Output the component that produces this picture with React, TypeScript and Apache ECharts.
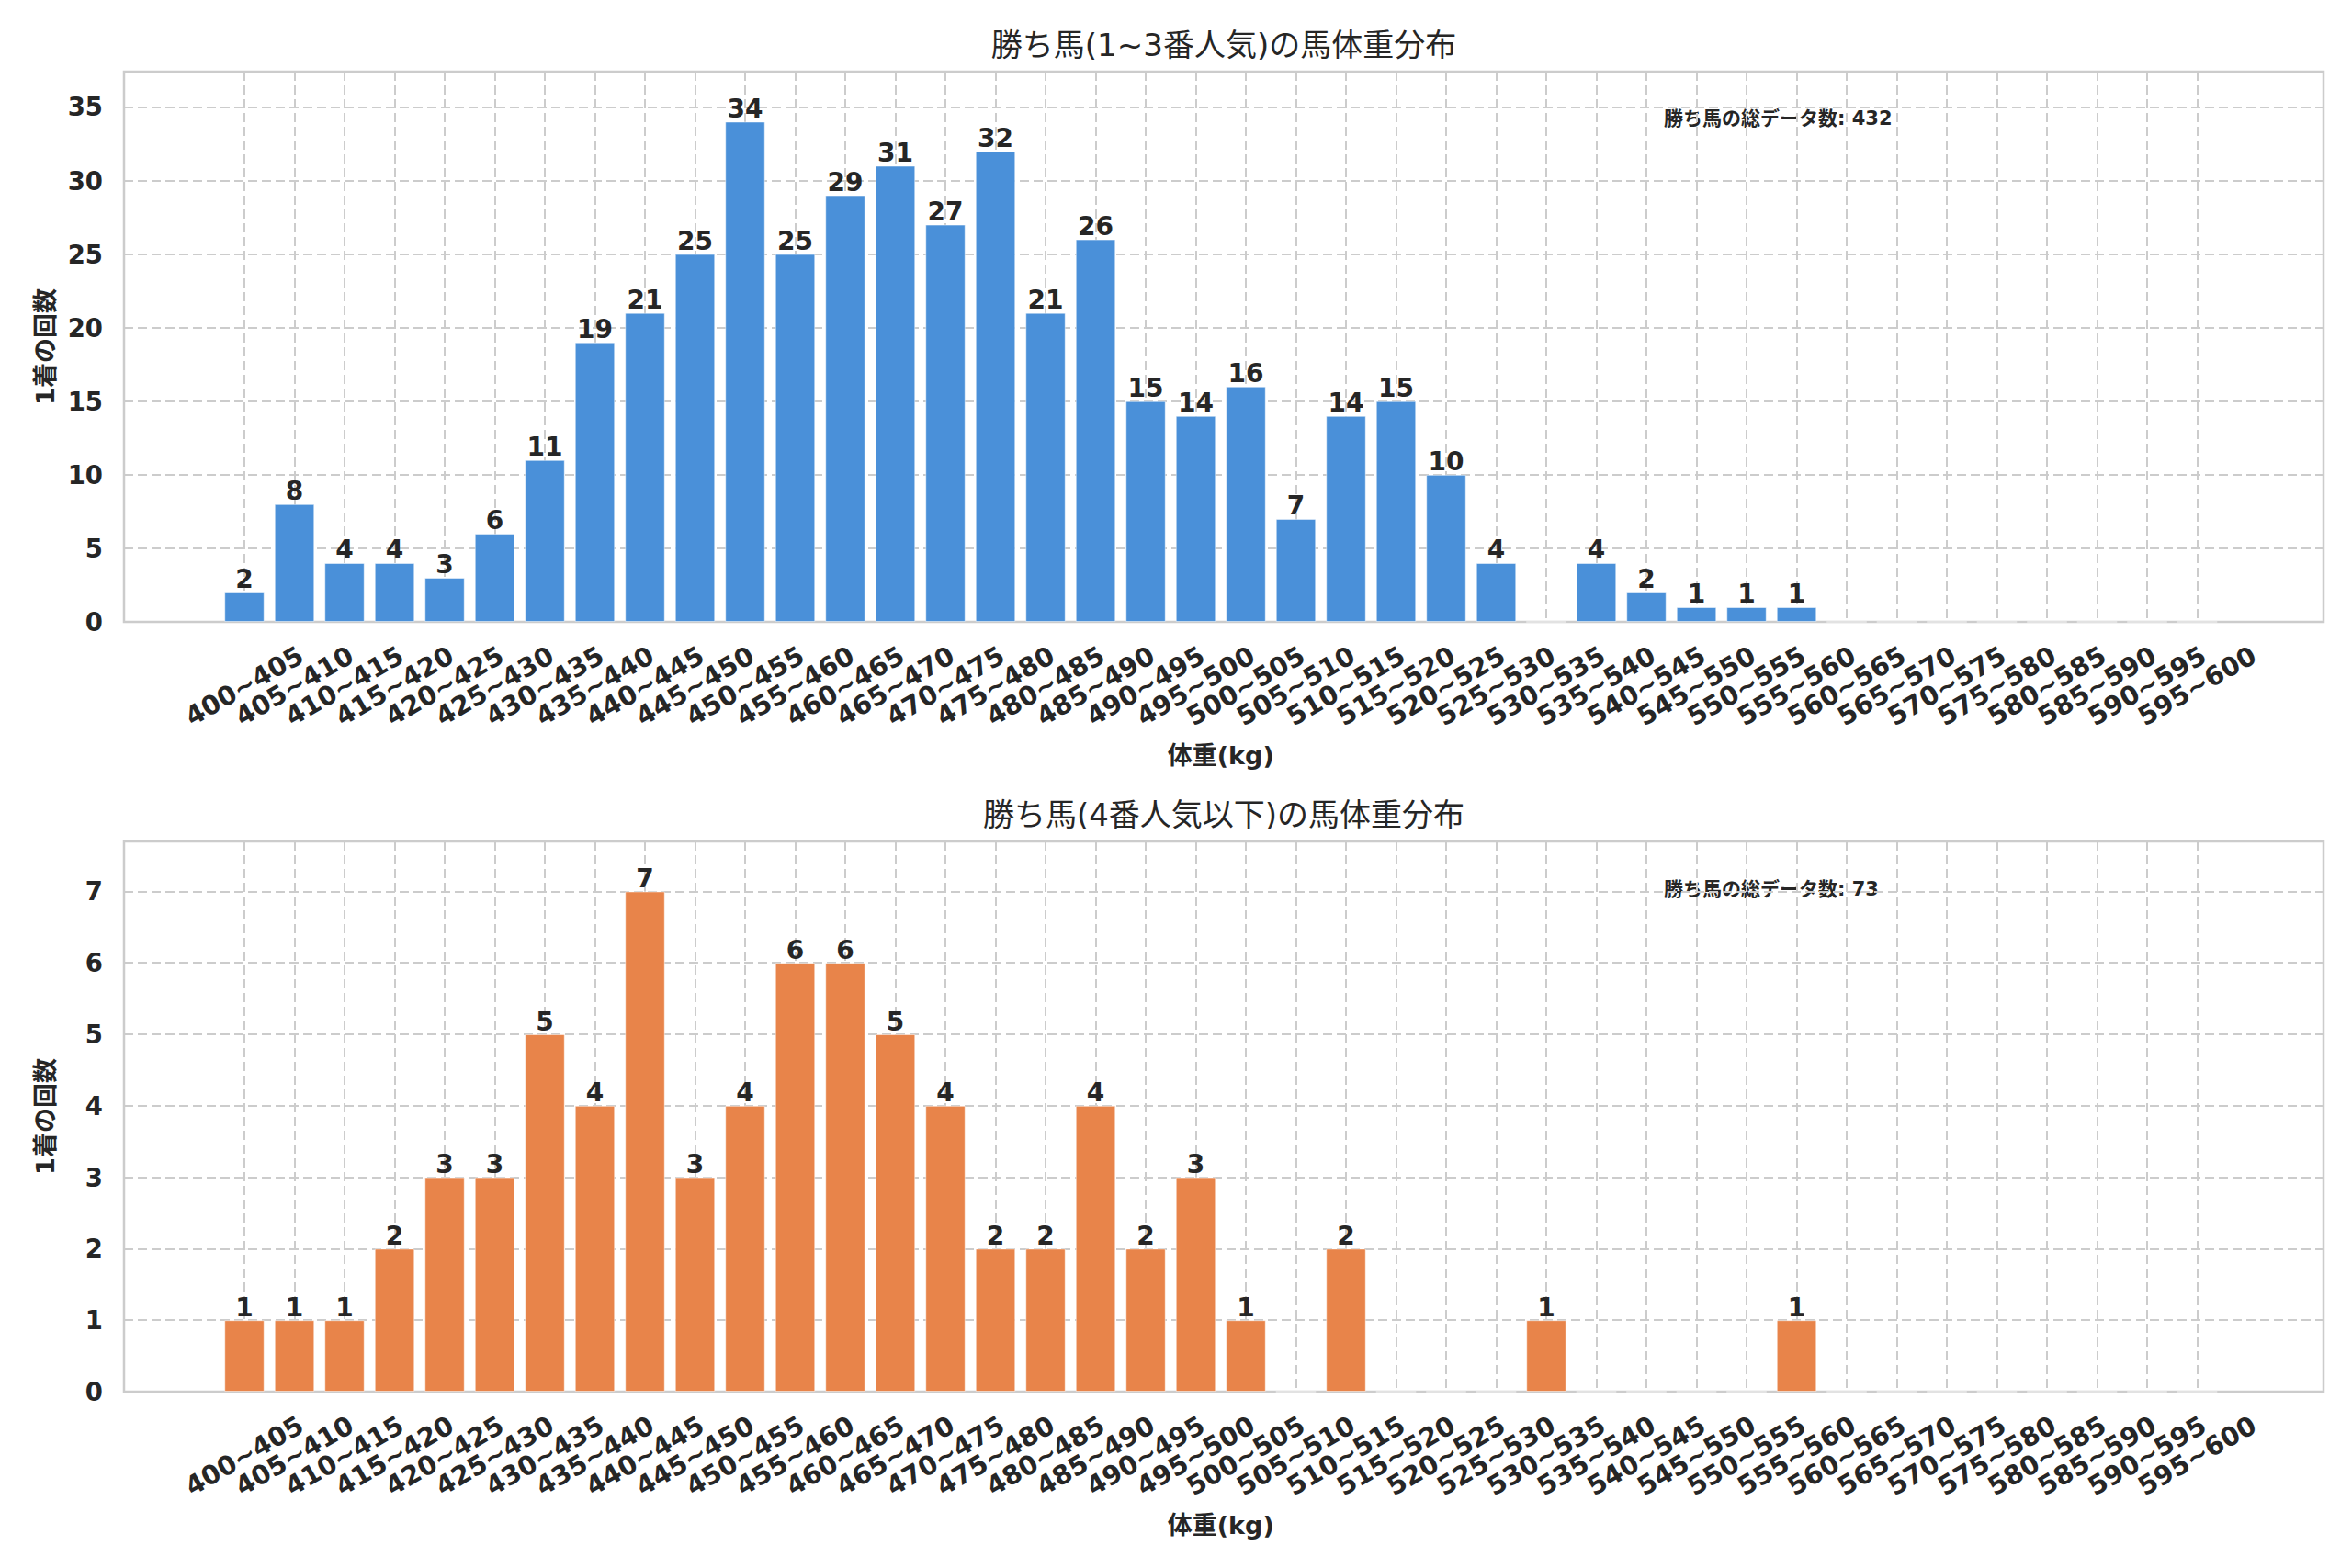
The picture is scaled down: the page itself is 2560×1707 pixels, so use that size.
import { useEffect, useRef } from 'react'
import * as echarts from 'echarts'

// ── 体重ビン（x軸ラベル）────────────────────────
const WEIGHT_BINS = [
  '400~405', '405~410', '410~415', '415~420', '420~425', '425~430', '430~435', '435~440',
  '440~445', '445~450', '450~455', '455~460', '460~465', '465~470', '470~475', '475~480',
  '480~485', '485~490', '490~495', '495~500', '500~505', '505~510', '510~515', '515~520',
  '520~525', '525~530', '530~535', '535~540', '540~545', '545~550', '550~555', '555~560',
  '560~565', '565~570', '570~575', '575~580', '580~585', '585~590', '590~595', '595~600',
]

// 1~3番人気の勝ち馬
const POPULAR_COUNTS = [
  2, 8, 4, 4, 3, 6, 11, 19,
  21, 25, 34, 25, 29, 31, 27, 32,
  21, 26, 15, 14, 16, 7, 14, 15,
  10, 4, 0, 4, 2, 1, 1, 1,
  0, 0, 0, 0, 0, 0, 0, 0,
]

// 4番人気以下の勝ち馬
const LONGSHOT_COUNTS = [
  1, 1, 1, 2, 3, 3, 5, 4,
  7, 3, 4, 6, 6, 5, 4, 2,
  2, 4, 2, 3, 1, 0, 2, 0,
  0, 0, 1, 0, 0, 0, 0, 1,
  0, 0, 0, 0, 0, 0, 0, 0,
]

const POPULAR_TOTAL = 432
const LONGSHOT_TOTAL = 73

const TITLES = ['勝ち馬(1~3番人気)の馬体重分布', '勝ち馬(4番人気以下)の馬体重分布']
const Y_NAME = '1着の回数'
const X_NAME = '体重(kg)'
const TOTAL_LABEL = '勝ち馬の総データ数'

// ── レイアウト ──────────────────────────────────
const FONT = "'DejaVu Sans', 'Noto Sans CJK JP', sans-serif"
const INK = '#262626'
const GRID_GRAY = '#cccccc'
const PLOT_LEFT = 135
const PLOT_RIGHT = 2529
const BAR_LEFT = 266
const BAR_RIGHT = 2391.5
const PLOT_H = 599
const PANEL_TOPS = [78, 916]
const CENTER_X = (PLOT_LEFT + PLOT_RIGHT) / 2

function buildPanel(i: number, ymax: number, interval: number, data: number[], color: string) {
  const top = PANEL_TOPS[i]
  const g0 = i * 2
  const g1 = i * 2 + 1
  const grids = [
    {
      left: PLOT_LEFT, top, width: PLOT_RIGHT - PLOT_LEFT, height: PLOT_H,
      show: true, borderColor: GRID_GRAY, borderWidth: 2.5, backgroundColor: 'transparent',
    },
    { left: BAR_LEFT, top, width: BAR_RIGHT - BAR_LEFT, height: PLOT_H },
  ]
  const xAxes = [
    { gridIndex: g0, type: 'value', min: 0, max: 1, show: false },
    {
      gridIndex: g1, type: 'category', data: WEIGHT_BINS, boundaryGap: false,
      axisLine: { show: false }, axisTick: { show: false },
      axisLabel: {
        interval: 0, rotate: 30, align: 'center', verticalAlign: 'middle', margin: 70,
        color: INK, fontFamily: FONT, fontWeight: 'bold', fontSize: 28.5,
      },
      splitLine: {
        show: true, interval: 0,
        lineStyle: { color: GRID_GRAY, width: 2, type: [10, 5] },
      },
      name: X_NAME, nameLocation: 'middle', nameGap: 132,
      nameTextStyle: { color: INK, fontFamily: FONT, fontWeight: 'bold', fontSize: 27 },
    },
  ]
  const yAxes = [
    {
      gridIndex: g0, type: 'value', min: 0, max: ymax, interval,
      axisLine: { show: false }, axisTick: { show: false },
      axisLabel: {
        showMaxLabel: false, margin: 23,
        color: INK, fontFamily: FONT, fontWeight: 'bold', fontSize: 27.5,
      },
      splitLine: { show: true, lineStyle: { color: GRID_GRAY, width: 2, type: [10, 5] } },
      name: Y_NAME, nameLocation: 'middle', nameGap: 72,
      nameTextStyle: { color: INK, fontFamily: FONT, fontWeight: 'bold', fontSize: 27 },
    },
    { gridIndex: g1, type: 'value', min: 0, max: ymax, show: false },
  ]
  const series = {
    type: 'bar',
    xAxisIndex: g1,
    yAxisIndex: g1,
    data,
    barWidth: 43.5,
    itemStyle: { color, borderColor: 'rgba(255,255,255,0.5)', borderWidth: 1 },
    label: {
      show: true, position: 'top', distance: 0,
      color: INK, fontFamily: FONT, fontWeight: 'bold', fontSize: 28,
      formatter: (p: { value: number }) => (p.value > 0 ? String(p.value) : ''),
    },
  }
  return { grids, xAxes, yAxes, series }
}

function buildOption() {
  const a = buildPanel(0, 37.4, 5, POPULAR_COUNTS, '#4a90d9')
  const b = buildPanel(1, 7.7, 1, LONGSHOT_COUNTS, '#e8844a')

  const textStyle = (text: string, size: number, bold: boolean) => ({
    text, fill: INK, font: `${bold ? 'bold ' : ''}${size}px ${FONT}`,
    verticalAlign: 'middle',
  })

  return {
    animation: false,
    backgroundColor: '#ffffff',
    grid: [...a.grids, ...b.grids],
    xAxis: [...a.xAxes, ...b.xAxes],
    yAxis: [...a.yAxes, ...b.yAxes],
    series: [a.series, b.series],
    graphic: [
      { type: 'text', x: CENTER_X, y: 49, style: { ...textStyle(TITLES[0], 34, false), align: 'center' } },
      { type: 'text', x: CENTER_X, y: 887, style: { ...textStyle(TITLES[1], 34, false), align: 'center' } },
      { type: 'text', x: 1811, y: 129, style: textStyle(`${TOTAL_LABEL}: ${POPULAR_TOTAL}`, 21, true) },
      { type: 'text', x: 1811, y: 968, style: textStyle(`${TOTAL_LABEL}: ${LONGSHOT_TOTAL}`, 21, true) },
    ],
  }
}

export default function App() {
  const ref = useRef<HTMLDivElement>(null)

  useEffect(() => {
    document.body.style.margin = '0'
    if (!ref.current) return
    const chart = echarts.init(ref.current, null, { renderer: 'svg' })
    chart.setOption(buildOption())
    return () => chart.dispose()
  }, [])

  return <div ref={ref} style={{ width: 2560, height: 1707, background: '#fff' }} />
}
